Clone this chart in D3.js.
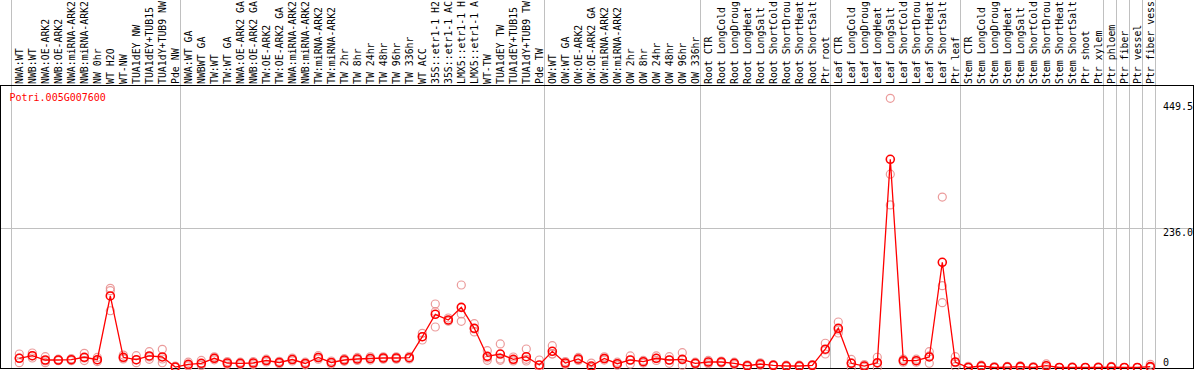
<!DOCTYPE html>
<html><head><meta charset="utf-8">
<script src="https://cdn.jsdelivr.net/npm/d3@7"></script>
<style>
body{margin:0;background:#fff;overflow:hidden}
text{font-family:"DejaVu Sans Mono",monospace;font-size:10px}
</style>
</head><body>
<svg id="c" width="1194" height="370"></svg>
<script>
const geneId = "Potri.005G007600";
// category labels as visible in the reference (long names are cut at the top edge there)
const categories = [
"NWA:WT","NWB:WT","NWA:OE-ARK2","NWB:OE-ARK2","NWA:miRNA-ARK2","NWB:miRNA-ARK2","NW 0hr","WT H2O","WT-NW","TUA1dEY NW","TUA1dEY+TUB15","TUA1dY+TUB9 NW","Pde NW",
"NWA:WT GA","NWBWT GA","TW:WT","TW:WT GA","NWA:OE-ARK2 GA","NWB:OE-ARK2 GA","TW:OE-ARK2","TW:OE-ARK2 GA","NWA:miRNA-ARK2","NWB:miRNA-ARK2","TW:miRNA-ARK2","TW:miRNA-ARK2","TW 2hr","TW 8hr","TW 24hr","TW 48hr","TW 96hr","TW 336hr","WT ACC","35S::etr1-1 H2","35S::etr1-1 AC","LMX5::etr1-1 H","LMX5::etr1-1 A","WT-TW","TUA1dEY TW","TUA1dEY+TUB15","TUA1dY+TUB9 TW","Pde TW",
"OW:WT","OW:WT GA","OW:OE-ARK2","OW:OE-ARK2 GA","OW:miRNA-ARK2","OW:miRNA-ARK2","OW 2hr","OW 8hr","OW 24hr","OW 48hr","OW 96hr","OW 336hr",
"Root CTR","Root LongCold","Root LongDroug","Root LongHeat","Root LongSalt","Root ShortCold","Root ShortDrou","Root ShortHeat","Root ShortSalt","Ptr root",
"Leaf CTR","Leaf LongCold","Leaf LongDroug","Leaf LongHeat","Leaf LongSalt","Leaf ShortCold","Leaf ShortDrou","Leaf ShortHeat","Leaf ShortSalt","Ptr leaf",
"Stem CTR","Stem LongCold","Stem LongDroug","Stem LongHeat","Stem LongSalt","Stem ShortCold","Stem ShortDrou","Stem ShortHeat","Stem ShortSalt","Ptr shoot","Ptr xylem",
"Ptr phloem","Ptr fiber","Ptr vessel","Ptr fiber vess"
];
// index of first category of each group (separator drawn before it); last = after final category
const groupStarts = [0, 13, 41, 53, 63, 73, 84, 85, 86, 87, 88];
const meanValues = [
15.6,20.0,12.7,12.7,13.2,17.3,13.2,121.0,17.3,13.2,19.5,17.8,0.8,
5.4,7.1,15.6,7.6,7.1,7.6,11.8,8.5,13.5,6.8,16.9,8.5,12.7,14.4,15.2,16.1,16.1,16.6,52.1,90.0,80.4,101.8,66.3,18.9,22.8,13.9,18.3,4.2,
27.4,7.6,14.4,2.5,15.2,6.4,12.7,9.8,15.6,12.7,13.9,7.1,
9.3,9.3,7.1,3.0,5.9,3.7,2.5,2.5,3.7,31.0,
66.3,7.1,2.5,8.1,352.2,11.5,11.5,17.8,178.0,9.3,
0,2.5,0,0.8,1.4,0,3.0,0,0,0,0,
0.8,0,0,1.4
];
const replicates = [
[22.8,16.1,8.1],[24.5,19.5,16.1],[18.3,11,8.1],[14,12.5,11.5],[15,12.7,11.5],[24,16,11.8],[17,12.7,10],[134,130,96],[21,16,14.4],[20,12.7,8.1],[26.7,17.8,13.9],[30.8,14.4,8],[2.5,0,0],
[9,4,2.5],[12,6,3.5],[18,15.5,13],[10,7.5,5],[9,7,5],[10,7.5,5],[14,12,9.5],[10.5,8.5,6.5],[16,13.5,11],[9,7,4.5],[20,17,14],[11,8.5,6],[15,12.7,10.5],[17,14.5,12],[18,15,12.5],[18,16,14],[18,16,14],[19,16.5,14.5],[57.9,52.1,46.5],[107.4,94.4,68.5],[83.7,78.7,78.8],[139.6,90.5,78.2],[74.1,65.1,60.1],[28.4,16.1,12.2],[39.8,14.4,12.2],[17.8,12.7,11],[31.3,13.9,11],[12.7,0,0],
[36.9,22.8,22.8],[10,7.5,5],[17,14.5,12],[7.5,0,0],[18,15,12.5],[9,6.5,4],[19.5,12.7,5.8],[12,9.8,7.5],[19.5,15.6,12],[18.3,12.7,7],[25,13,4],[9,7,5.5],
[12,9.3,6.5],[11,9.3,7.5],[9,7,5],[4.5,3,1.5],[8,6,3.7],[5,3.7,2.5],[4,2.5,1],[4,2.5,1],[5,3.7,2.5],[41,29.6,22.8],
[77,63.4,58.4],[13.7,8,0],[5,2.5,0],[17.3,7,0],[455.4,327.0,275.0],[14,11.5,9],[14,11.5,9],[26.7,19.5,7.2],[288.4,138.4,109.6],[18.3,8,1.5],
[2,0,0],[4,2.5,1],[1.5,0,0],[2,0.5,0],[3,1.2,0],[1.5,0,0],[6,3,0],[0,0,0],[1,0,0],[0,0,0],[1,0,0],
[2,0.5,0],[0,0,0],[0,0,0],[5.4,0,0]
];
const yTickValues = [449.5, 236.0, 0];
const yTickLabels = ["449.5", "236.0", "0"];

const W = 1194, H = 370;
const svg = d3.select("#c");
const x = d3.scalePoint().domain(d3.range(categories.length)).range([19.3, 1150.3]);
const y = d3.scaleLinear().domain([0, 236]).range([367.5, 228]);
const px = v => Math.round(v) + 0.5;

// separators
const sepX = groupStarts.map(i => i < categories.length ? x(i) - 8 : x(categories.length - 1) + 5);
svg.append("g").selectAll("line").data(sepX).join("line")
  .attr("x1", d => px(d)).attr("x2", d => px(d)).attr("y1", 0).attr("y2", 369)
  .attr("stroke", "#c0c0c0").attr("stroke-width", 1);

// horizontal gridline at middle tick
svg.append("line").attr("x1", 1).attr("x2", 1193).attr("y1", y(236) + 0.5).attr("y2", y(236) + 0.5)
  .attr("stroke", "#c0c0c0");

// frame
svg.append("line").attr("x1", 0).attr("x2", W).attr("y1", 85.5).attr("y2", 85.5).attr("stroke", "#000");
svg.append("line").attr("x1", 0).attr("x2", W).attr("y1", 368.5).attr("y2", 368.5).attr("stroke", "#000");
svg.append("line").attr("x1", 0.5).attr("x2", 0.5).attr("y1", 85).attr("y2", 369).attr("stroke", "#000");
svg.append("line").attr("x1", 1193.5).attr("x2", 1193.5).attr("y1", 85).attr("y2", 369).attr("stroke", "#000");

// category labels (rotated)
svg.append("g").selectAll("text").data(categories).join("text")
  .attr("transform", (d, i) => `translate(${x(i) + 4},84) rotate(-90)`)
  .style("font-size", "9.85px")
  .attr("fill", "#000").text(d => d);

// gene id
svg.append("text").attr("x", 9.5).attr("y", 101).attr("fill", "#f00").text(geneId);

// y labels
svg.append("g").selectAll("text").data(yTickValues).join("text")
  .attr("x", 1163).attr("y", (d, i) => i === yTickValues.length - 1 ? y(d) - 2 : y(d) + 8)
  .attr("fill", "#000").text((d, i) => yTickLabels[i]);

// replicate points
const repData = [];
replicates.forEach((arr, i) => arr.forEach(v => repData.push({i, v})));
svg.append("g").selectAll("circle").data(repData).join("circle")
  .attr("cx", d => x(d.i)).attr("cy", d => y(d.v)).attr("r", 4)
  .attr("fill", "none").attr("stroke", "#e88a8a").attr("stroke-width", 1.2).attr("stroke-opacity", 0.85);

// mean line
svg.append("path").datum(meanValues)
  .attr("d", d3.line().x((d, i) => x(i)).y(d => y(d)))
  .attr("fill", "none").attr("stroke", "#f00").attr("stroke-width", 1.3);

// mean points
svg.append("g").selectAll("circle").data(meanValues).join("circle")
  .attr("cx", (d, i) => x(i)).attr("cy", d => y(d)).attr("r", 4)
  .attr("fill", "none").attr("stroke", "#f00").attr("stroke-width", 1.6);
</script>
</body></html>
